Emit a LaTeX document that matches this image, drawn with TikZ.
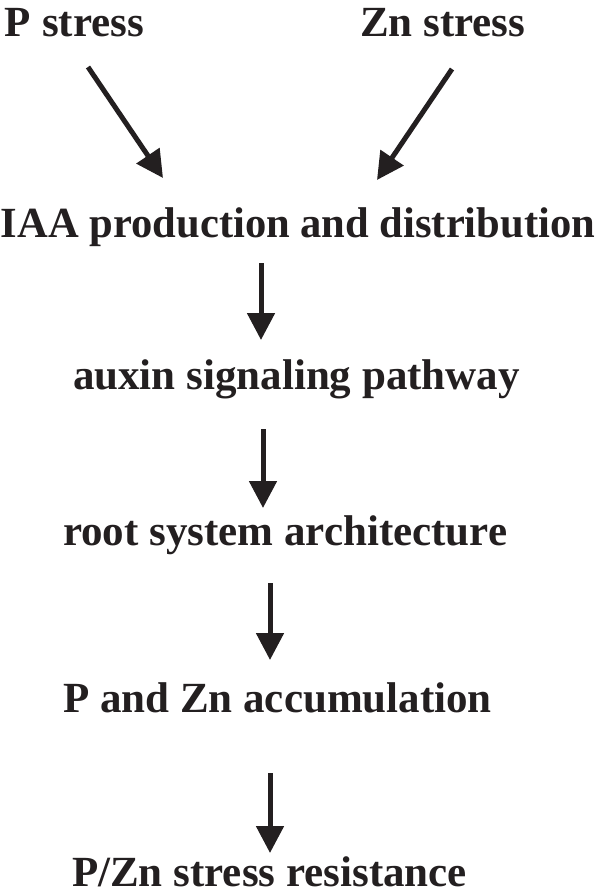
\documentclass[tikz,border=0pt]{standalone}
\usepackage{fontspec}
\setmainfont{Liberation Serif}
\usetikzlibrary{arrows.meta}
\definecolor{ink}{HTML}{231F20}
\begin{document}
\begin{tikzpicture}[x=1pt,y=-1pt,
  lbl/.style={anchor=base west,inner sep=0pt,outer sep=0pt,text=ink,
    font=\fontsize{43}{50}\selectfont\bfseries},
  flow/.style={draw=ink,line width=5pt,
    -{Triangle[length=27pt,width=27pt]},fill=ink}]
\useasboundingbox (0,0) rectangle (596,895);
\node[lbl] (p) at (5,36) {P stress};
\node[lbl] (zn) at (360,36) {Zn stress};
\node[lbl] (iaa) at (1,237) {\scalebox{0.99}[1]{IAA production and distribution}};
\node[lbl] (aux) at (73,389) {auxin signaling pathway};
\node[lbl] (root) at (63,545) {root system architecture};
\node[lbl] (acc) at (63,712) {P and Zn accumulation};
\node[lbl] (res) at (72,886) {P/Zn stress resistance};
\coordinate (a1s) at (88,67);  \coordinate (a1e) at (163,178);
\coordinate (a2s) at (452,69); \coordinate (a2e) at (377,180);
\coordinate (a3s) at (261,263); \coordinate (a3e) at (261,340);
\coordinate (a4s) at (263,429); \coordinate (a4e) at (263,508);
\coordinate (a5s) at (270,583); \coordinate (a5e) at (270,660);
\coordinate (a6s) at (270,773); \coordinate (a6e) at (270,853);
\draw[flow] (a1s) -- (a1e);
\draw[flow] (a2s) -- (a2e);
\draw[flow] (a3s) -- (a3e);
\draw[flow] (a4s) -- (a4e);
\draw[flow] (a5s) -- (a5e);
\draw[flow] (a6s) -- (a6e);
\end{tikzpicture}
\end{document}
